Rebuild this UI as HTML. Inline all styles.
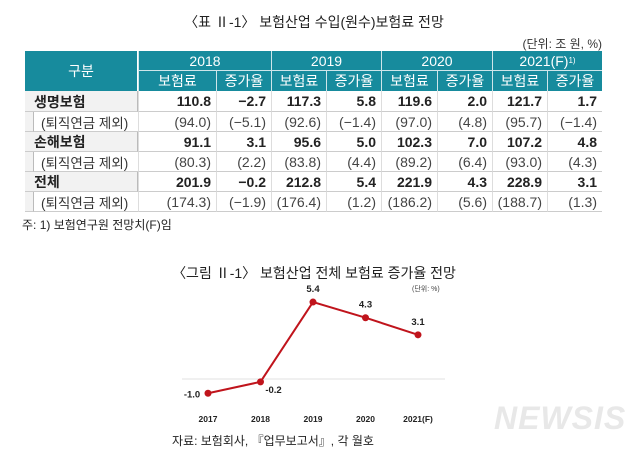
<!DOCTYPE html>
<html><head><meta charset="utf-8"><style>
body{margin:0;width:640px;height:452px;background:#fff;position:relative;overflow:hidden;font-family:"Liberation Sans","Noto Sans CJK KR",sans-serif;color:#222}
.a{position:absolute;white-space:nowrap}
.c{position:absolute;box-sizing:border-box;font-size:14px;display:flex;align-items:center;white-space:nowrap}
</style></head><body>
<div class="a" style="left:0;width:628px;text-align:center;top:12px;font-size:14px">〈표 Ⅱ-1〉 보험산업 수입(원수)보험료 전망</div>
<div class="a" style="right:38px;top:35px;font-size:12px;color:#333">(단위: 조 원, %)</div>
<div id="tbl"></div>
<div class="a" style="left:22px;top:216px;font-size:12px">주: 1) 보험연구원 전망치(F)임</div>

<div class="a" style="left:0;width:628px;text-align:center;top:263px;font-size:14px">〈그림 Ⅱ-1〉 보험산업 전체 보험료 증가율 전망</div>
<div class="a" style="left:412px;top:284px;font-size:7px;color:#444">(단위: %)</div>
<svg id="chart" width="640" height="452" style="position:absolute;left:0;top:0"></svg>
<div class="a" style="left:172px;top:432px;font-size:12px">자료: 보험회사, 『업무보고서』, 각 월호</div>
<div class="a" style="left:494px;top:400px;font-size:32px;font-weight:bold;font-style:italic;color:#e8e8e8;letter-spacing:1px">NEWSIS</div>

<script>
const years=["2017","2018","2019","2020","2021(F)"];
const growth=[-1.0,-0.2,5.4,4.3,3.1];
const rowLabels=["생명보험","(퇴직연금 제외)","손해보험","(퇴직연금 제외)","전체","(퇴직연금 제외)"];
const tableYears=["2018","2019","2020","2021(F)"];
const cells=[
["110.8","−2.7","117.3","5.8","119.6","2.0","121.7","1.7"],
["(94.0)","(−5.1)","(92.6)","(−1.4)","(97.0)","(4.8)","(95.7)","(−1.4)"],
["91.1","3.1","95.6","5.0","102.3","7.0","107.2","4.8"],
["(80.3)","(2.2)","(83.8)","(4.4)","(89.2)","(6.4)","(93.0)","(4.3)"],
["201.9","−0.2","212.8","5.4","221.9","4.3","228.9","3.1"],
["(174.3)","(−1.9)","(176.4)","(1.2)","(186.2)","(5.6)","(188.7)","(1.3)"]];

const tbl=document.getElementById('tbl');
const cx=[25,138,216,271,326,381,437,492,547,602];
const ry=[51,71,91,112,132,152,172,192,212];
const teal="#178b9d";
function cell(x,y,w,h,txt,style,name){
 const d=document.createElement('div');d.className='c';
 d.style.cssText+=`left:${x}px;top:${y}px;width:${w}px;height:${h}px;`+style;
 d.textContent=txt;
 
 
 tbl.appendChild(d);
 return d;
}
cell(25,51,113,40,"구분",`background:${teal};color:#fff;justify-content:center;border-right:1px solid #fff;`,'header-category');
tableYears.forEach((y,i)=>{
 const d=cell(cx[1+i*2],51,cx[3+i*2]-cx[1+i*2],20,y,`background:${teal};color:#fff;justify-content:center;border-left:1px solid #cfe6ea;border-bottom:1px solid #cfe6ea;`,'header-year');
 if(i==3){const s=document.createElement('sup');s.textContent='1)';s.style.fontSize='8px';d.appendChild(s);}
 ["보험료","증가율"].forEach((s,j)=>{
  cell(cx[1+i*2+j],71,cx[2+i*2+j]-cx[1+i*2+j],20,s,`background:${teal};color:#fff;justify-content:center;border-left:1px solid #cfe6ea;`,'header-sub');
 });
});
rowLabels.forEach((l,r)=>{
 const sub=r%2==1;
 cell(25,ry[r+2],113,ry[r+3]-ry[r+2],"",`background:#f2f2f2;border-bottom:1px solid #ccc;border-right:1px solid #bbb;`,'row-label-bg');
 if(sub) cell(33,ry[r+2],105,ry[r+3]-ry[r+2],l,`background:#fff;border-left:1px solid #bbb;border-bottom:1px solid #ccc;padding-left:7px;color:#333;font-size:13.5px;`,'row-label');
 else cell(25,ry[r+2],113,ry[r+3]-ry[r+2],l,`font-weight:bold;padding-left:9px;`,'row-label');
 cells[r].forEach((v,k)=>{
  cell(cx[1+k],ry[r+2],cx[2+k]-cx[1+k],ry[r+3]-ry[r+2],v,`justify-content:flex-end;padding-right:5px;border-bottom:1px solid #ccc;border-left:1px solid #ddd;${sub?'color:#444;':'font-weight:bold;'}`,'data-cell');
 });
});

const svg=document.getElementById('chart');
const NS="http://www.w3.org/2000/svg";
const xPos=i=>208+i*52.5;
const yPos=v=>379-v*14.25;
function el(t,a,name){const e=document.createElementNS(NS,t);for(const k in a)e.setAttribute(k,a[k]);
 
 
 svg.appendChild(e);return e;}
el('line',{x1:182,x2:445,y1:yPos(0),y2:yPos(0),stroke:'#e2e2e2','stroke-width':1},'zero-line');
el('polyline',{points:growth.map((v,i)=>xPos(i)+','+yPos(v)).join(' '),fill:'none',stroke:'#c0141c','stroke-width':2},'growth-line');
growth.forEach((v,i)=>{
 el('circle',{cx:xPos(i),cy:yPos(v),r:3.5,fill:'#c0141c'},'point-'+years[i]);
 let lx=xPos(i),ly=yPos(v)-10,anc='middle';
 if(i==0){lx=xPos(i)-16;ly=yPos(v)+4;}
 if(i==1){lx=xPos(i)+13;ly=yPos(v)+11;}
 const t=el('text',{x:lx,y:ly,'text-anchor':anc,'font-size':9.5,'font-weight':'bold',fill:'#222','font-family':'Liberation Sans, sans-serif'},'value-label');
 t.textContent=v.toFixed(1);
 const xt=el('text',{x:xPos(i),y:422,'text-anchor':'middle','font-size':8.5,'font-weight':'bold',fill:'#222','font-family':'Liberation Sans, sans-serif'},'x-tick-label');
 xt.textContent=years[i];
});
</script>
</body></html>
